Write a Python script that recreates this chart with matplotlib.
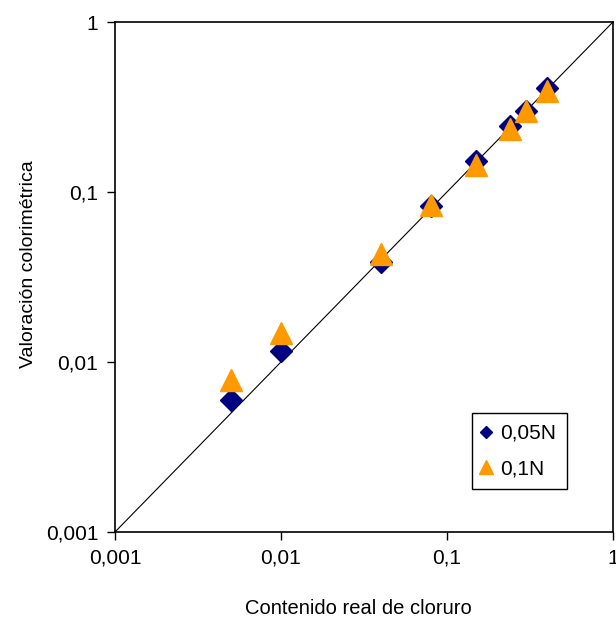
import numpy as np
import matplotlib
matplotlib.use('Agg')
import matplotlib.pyplot as plt
from matplotlib.ticker import FixedLocator, FixedFormatter, NullLocator

plt.rcParams['font.family'] = ['Liberation Sans', 'DejaVu Sans']

# data
real = [0.005, 0.01, 0.04, 0.08, 0.15, 0.24, 0.3, 0.4]
val_005N = [0.006, 0.0116, 0.0385, 0.083, 0.152, 0.245, 0.3, 0.41]
val_01N = [0.0078, 0.0148, 0.043, 0.084, 0.144, 0.236, 0.3, 0.395]

ticks = [0.001, 0.01, 0.1, 1]
tick_labels = ['0,001', '0,01', '0,1', '1']

fig = plt.figure(figsize=(6.16, 6.17), dpi=100)
ax = fig.add_axes([0.1867, 0.1378, 0.8083, 0.8265])

ax.plot([0.001, 1], [0.001, 1], color='black', lw=0.8, zorder=1)
ax.plot(real, val_005N, 'D', color='#000080', markersize=11, label='0,05N', zorder=2)
ax.plot(real, val_01N, '^', color='#FF9900', markersize=16, label='0,1N', zorder=3)

ax.set_xscale('log')
ax.set_yscale('log')
ax.set_xlim(0.001, 1)
ax.set_ylim(0.001, 1)
for axis in (ax.xaxis, ax.yaxis):
    axis.set_major_locator(FixedLocator(ticks))
    axis.set_major_formatter(FixedFormatter(tick_labels))
    axis.set_minor_locator(NullLocator())
ax.tick_params(labelsize=15, length=6, width=1, color='black', pad=6)

for s in ax.spines.values():
    s.set_color('black')
    s.set_linewidth(1.2)

ax.set_xlabel('Contenido real de cloruro', fontsize=14.5)
ax.set_ylabel('Valoración colorimétrica', fontsize=14)
ax.xaxis.set_label_coords(0.488, -0.131)
ax.yaxis.set_label_coords(-0.157, 0.5255)

leg = ax.legend(loc='lower right', bbox_to_anchor=(0.9076, 0.0843), borderaxespad=0,
                fontsize=15, frameon=True, fancybox=False, edgecolor='black', framealpha=1,
                handletextpad=0.5, borderpad=0.5, labelspacing=0.8, handlelength=0.35,
                markerscale=0.6)
leg.get_frame().set_linewidth(1)

fig.savefig('out.png', dpi=100)
